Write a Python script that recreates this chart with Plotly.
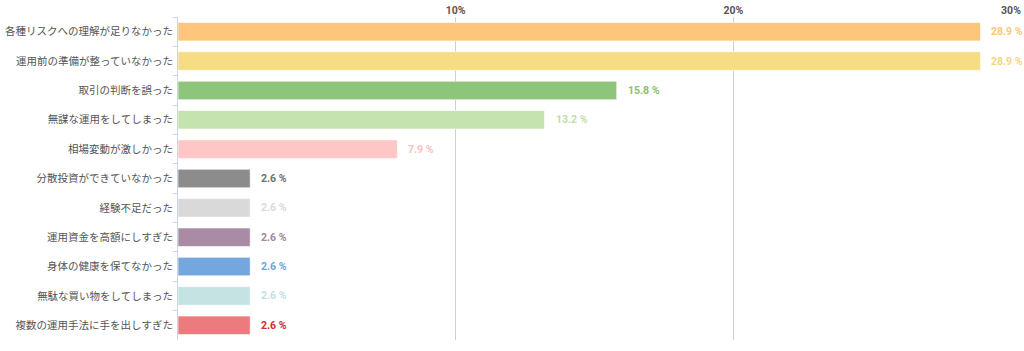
import plotly.graph_objects as go

categories = [
    "各種リスクへの理解が足りなかった",
    "運用前の準備が整っていなかった",
    "取引の判断を誤った",
    "無謀な運用をしてしまった",
    "相場変動が激しかった",
    "分散投資ができていなかった",
    "経験不足だった",
    "運用資金を高額にしすぎた",
    "身体の健康を保てなかった",
    "無駄な買い物をしてしまった",
    "複数の運用手法に手を出しすぎた",
]
values = [28.9, 28.9, 15.8, 13.2, 7.9, 2.6, 2.6, 2.6, 2.6, 2.6, 2.6]
bar_colors = ["#FEC57D", "#F6DC82", "#8DC67B", "#C5E3AE", "#FEC6C4", "#8C8C8C",
              "#D9D9D9", "#A98BA6", "#74A7DE", "#C5E3E3", "#EC7B80"]
text_colors = ["#FEC57D", "#F6D67E", "#86C270", "#BEDFA6", "#FDC0BF", "#707070",
               "#DADADA", "#A386A0", "#6FA4E0", "#C2E1E1", "#D8262E"]
tick_vals = [10, 20, 30]
tick_text = ["10%", "20%", "30%"]

fig = go.Figure()
fig.add_trace(go.Bar(
    y=categories, x=values, orientation="h",
    marker=dict(color=bar_colors, line=dict(color="rgba(255,255,255,0.6)", width=1)),
    hoverinfo="skip",
))
for c, v, tc in zip(categories, values, text_colors):
    fig.add_annotation(
        x=v, y=c, text=f"{v} %", showarrow=False, xanchor="left", xshift=9,
        font=dict(family="Roboto, Liberation Sans, sans-serif", size=10.5, color=tc, weight="bold"),
    )

fig.update_layout(
    width=1024, height=351,
    margin=dict(l=178, r=13, t=17, b=11),
    paper_bgcolor="white", plot_bgcolor="white",
    bargap=0.37, showlegend=False,
    font=dict(family="Noto Sans CJK JP, sans-serif", color="#555555"),
)
fig.update_xaxes(
    range=[0, 30], side="top", tickvals=tick_vals, ticktext=tick_text,
    showgrid=True, gridcolor="#D0D0D0", gridwidth=1, zeroline=False,
    showline=False, ticks="", automargin=False,
    tickfont=dict(family="Roboto, Liberation Sans, sans-serif", size=10.5, color="#555555", weight="bold"),
    fixedrange=True,
)
fig.update_yaxes(
    autorange="reversed", showgrid=False, showline=True, linecolor="#CCD6EB", linewidth=1,
    ticks="outside", tickson="boundaries", ticklen=4, tickcolor="#CCD6EB", automargin=False,
    tickfont=dict(family="Noto Sans CJK JP, sans-serif", size=10.5, color="#555555"),
    ticklabelstandoff=2, fixedrange=True,
)

fig.write_html("out.html", config={"displayModeBar": False})
